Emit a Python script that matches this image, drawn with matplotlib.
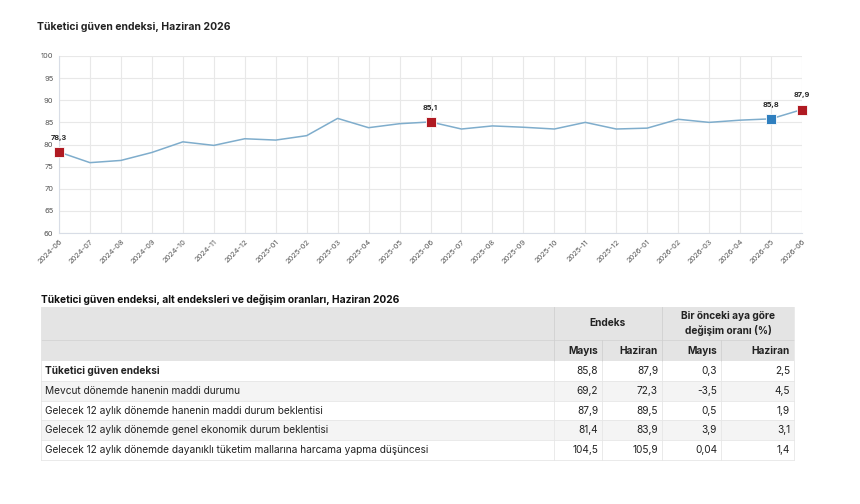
import matplotlib.pyplot as plt
from matplotlib.patches import Rectangle

plt.rcParams['font.family'] = ['Inter', 'DejaVu Sans']

# ---- data ----
months = ['2024-06', '2024-07', '2024-08', '2024-09', '2024-10', '2024-11', '2024-12',
          '2025-01', '2025-02', '2025-03', '2025-04', '2025-05', '2025-06', '2025-07',
          '2025-08', '2025-09', '2025-10', '2025-11', '2025-12', '2026-01', '2026-02',
          '2026-03', '2026-04', '2026-05', '2026-06']
index_values = [78.3, 75.9, 76.4, 78.2, 80.6, 79.8, 81.3, 81.0, 82.0, 85.9, 83.8, 84.7,
                85.1, 83.5, 84.2, 83.9, 83.5, 85.0, 83.5, 83.7, 85.7, 85.0, 85.5, 85.8, 87.9]
red_points = [0, 12, 24]
blue_points = [23]

row_labels = ['Tüketici güven endeksi',
              'Mevcut dönemde hanenin maddi durumu',
              'Gelecek 12 aylık dönemde hanenin maddi durum beklentisi',
              'Gelecek 12 aylık dönemde genel ekonomik durum beklentisi',
              'Gelecek 12 aylık dönemde dayanıklı tüketim mallarına harcama yapma düşüncesi']
endeks_mayis = ['85,8', '69,2', '87,9', '81,4', '104,5']
endeks_haziran = ['87,9', '72,3', '89,5', '83,9', '105,9']
degisim_mayis = ['0,3', '-3,5', '0,5', '3,9', '0,04']
degisim_haziran = ['2,5', '4,5', '1,9', '3,1', '1,4']

W, H = 860, 504
fig = plt.figure(figsize=(W / 100, H / 100), dpi=100)

# ---- line chart ----
x0, x1, y0, y1 = 59, 802, 56, 233
ax = fig.add_axes([x0 / W, 1 - y1 / H, (x1 - x0) / W, (y1 - y0) / H])
xs = list(range(len(months)))
ax.plot(xs, index_values, color='#7fadcc', lw=1.1, zorder=3)
for i in red_points:
    ax.plot(i, index_values[i], marker='s', ms=7, color='#b01a22', mec='white', mew=0.6,
            zorder=4, clip_on=False)
for i in blue_points:
    ax.plot(i, index_values[i], marker='s', ms=7, color='#2f7fbf', mec='white', mew=0.6,
            zorder=4, clip_on=False)
for i in red_points + blue_points:
    ax.annotate(f'{index_values[i]:.1f}'.replace('.', ','), (i, index_values[i]),
                xytext=(0, 8), textcoords='offset points', ha='center', va='bottom',
                fontsize=5.3, fontweight='bold', color='#222222')
ax.set_xlim(0, len(months) - 1)
ax.set_ylim(60, 100)
ax.set_yticks(range(60, 101, 5))
ax.set_xticks(xs)
ax.set_xticklabels(months, rotation=45, ha='right', rotation_mode='anchor')
ax.tick_params(axis='both', length=0, labelsize=5.4, colors='#555555', pad=4)
ax.grid(True, color='#e8e8e8', lw=0.8)
ax.set_axisbelow(True)
for s in ['top', 'right']:
    ax.spines[s].set_visible(False)
ax.spines['left'].set_color('#d8dde6')
ax.spines['bottom'].set_color('#d8dde6')

fig.text(37 / W, 1 - 27 / H, 'Tüketici güven endeksi, Haziran 2026', fontsize=7.5,
         fontweight='bold', color='#222222', va='center')

# ---- table ----
tb = fig.add_axes([0, 0, 1, 1])
tb.set_xlim(0, W)
tb.set_ylim(H, 0)
tb.axis('off')

tb.text(41, 300, 'Tüketici güven endeksi, alt endeksleri ve değişim oranları, Haziran 2026',
        fontsize=7.35, fontweight='bold', color='#111111', va='center')

cols = [41, 554, 602, 662, 721, 794]
hdr1, hdr2, row_top, row_h = 307, 340, 361, 19.8
fs = 7.3
tb.add_patch(Rectangle((cols[0], hdr1), cols[-1] - cols[0], row_top - hdr1, color='#e4e4e4', lw=0))
tb.plot([cols[0], cols[-1]], [hdr2, hdr2], color='#d4d4d4', lw=0.6)
for c in [cols[1], cols[3]]:
    tb.plot([c, c], [hdr1, row_top], color='#d0d0d0', lw=0.6)
for c in [cols[2], cols[4]]:
    tb.plot([c, c], [hdr2, row_top], color='#d0d0d0', lw=0.6)

tb.text((cols[1] + cols[3]) / 2, (hdr1 + hdr2) / 2, 'Endeks', ha='center', va='center',
        fontsize=fs, fontweight='bold', color='#222222')
tb.text((cols[3] + cols[5]) / 2, (hdr1 + hdr2) / 2, 'Bir önceki aya göre\ndeğişim oranı (%)',
        ha='center', va='center', fontsize=fs, fontweight='bold', color='#222222',
        linespacing=1.45)
sub_labels = ['Mayıs', 'Haziran', 'Mayıs', 'Haziran']
for j, lab in enumerate(sub_labels):
    tb.text(cols[j + 2] - 4, (hdr2 + row_top) / 2, lab, ha='right', va='center',
            fontsize=fs, fontweight='bold', color='#222222')

for r, lab in enumerate(row_labels):
    top = row_top + r * row_h
    face = '#ffffff' if r % 2 == 0 else '#f4f4f4'
    tb.add_patch(Rectangle((cols[0], top), cols[-1] - cols[0], row_h, color=face, lw=0))
    tb.plot([cols[0], cols[-1]], [top + row_h, top + row_h], color='#e6e6e6', lw=0.6)
    cy = top + row_h / 2
    tb.text(cols[0] + 4, cy, lab, va='center', fontsize=fs, color='#222222',
            fontweight='bold' if r == 0 else 'normal')
    vals = [endeks_mayis[r], endeks_haziran[r], degisim_mayis[r], degisim_haziran[r]]
    for j, v in enumerate(vals):
        tb.text(cols[j + 2] - 4, cy, v, ha='right', va='center', fontsize=fs, color='#222222')
    for c in cols[1:5]:
        tb.plot([c, c], [top, top + row_h], color='#e6e6e6', lw=0.6)
bottom = row_top + len(row_labels) * row_h
tb.plot([cols[0], cols[0]], [hdr1, bottom], color='#e6e6e6', lw=0.6)
tb.plot([cols[-1], cols[-1]], [hdr1, bottom], color='#e6e6e6', lw=0.6)

fig.savefig('out.png', dpi=100)
